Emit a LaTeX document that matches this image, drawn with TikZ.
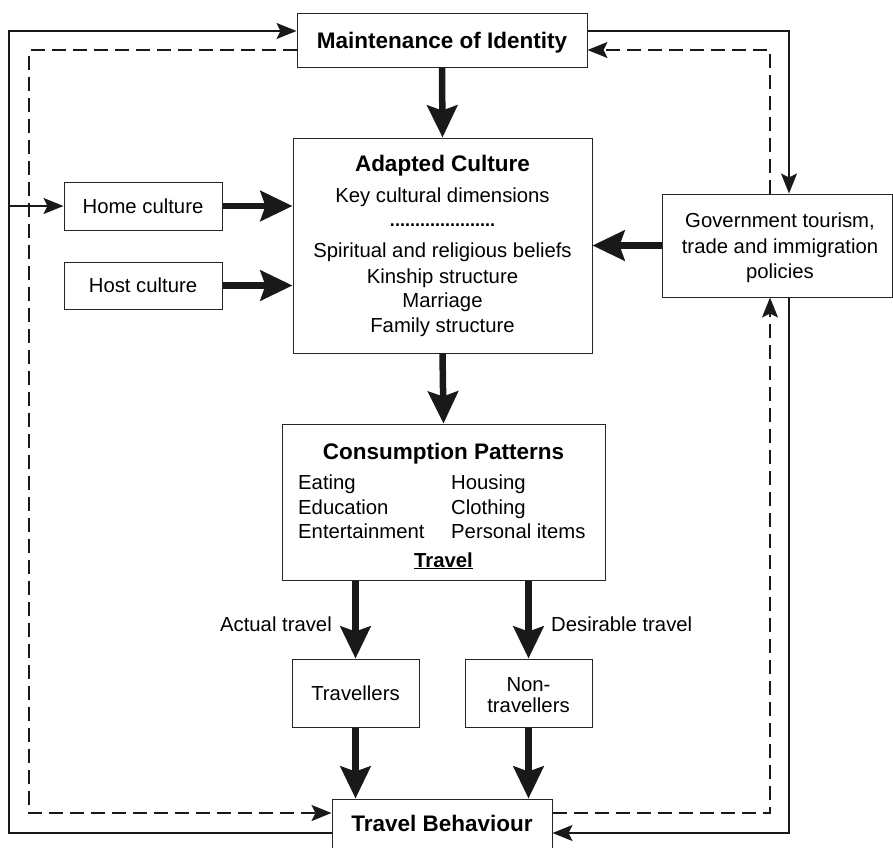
\documentclass[tikz,border=0pt]{standalone}
\usepackage{fontspec}
\setmainfont{Liberation Sans}
\usetikzlibrary{arrows.meta}
\tikzset{
  box/.style={draw=black!85, line width=1pt, inner sep=0pt, fill=white},
  txt/.style={inner sep=0pt, anchor=base, font=\fontsize{20.3}{25}\selectfont},
  ttl/.style={inner sep=0pt, anchor=base, font=\fontsize{22.5}{27}\selectfont\bfseries},
  bigarrow/.style={line width=6.5pt, draw=black!90, -{Stealth[length=32pt,width=30pt,inset=5pt]}},
  thinarrow/.style={line width=1.6pt, draw=black!90, -{Stealth[length=20pt,width=16pt,inset=4pt]}},
  dashline/.style={line width=1.6pt, draw=black!90, dash pattern=on 14pt off 7pt},
  dasharrow/.style={dashline, -{Stealth[length=20pt,width=16pt,inset=4pt]}},
}
\begin{document}
\begin{tikzpicture}[x=1pt,y=-1pt]
\useasboundingbox (0,0) rectangle (893,847);
% boxes
\node[box, minimum width=290pt, minimum height=54pt] (maint) at (442,40) {};
\node[ttl] (maintT) at (442,48) {Maintenance of Identity};
\node[box, minimum width=299pt, minimum height=215pt] (adapt) at (442.5,245.5) {};
\node[ttl] (adaptT) at (442.5,171) {Adapted Culture};
\node[txt] (adapt1) at (442.5,202) {Key cultural dimensions};
\node[txt, font=\fontsize{18}{20}\selectfont\bfseries] (adaptD) at (442.5,226) {.....................};
\node[txt] (adapt2) at (442.5,257) {Spiritual and religious beliefs};
\node[txt] (adapt3) at (442.5,283) {Kinship structure};
\node[txt] (adapt4) at (442.5,307) {Marriage};
\node[txt] (adapt5) at (442.5,332) {Family structure};
\node[box, minimum width=158pt, minimum height=48pt] (home) at (143,206) {};
\node[txt] (homeT) at (143,213) {Home culture};
\node[box, minimum width=158pt, minimum height=47pt] (host) at (143,285.5) {};
\node[txt] (hostT) at (143,292.5) {Host culture};
\node[box, minimum width=230pt, minimum height=103pt] (gov) at (777,245.5) {};
\node[txt] (gov1) at (780,227) {Government tourism,};
\node[txt] (gov2) at (780,253) {trade and immigration};
\node[txt] (gov3) at (780,278) {policies};
\node[box, minimum width=323pt, minimum height=156pt] (cons) at (443.5,502) {};
\node[ttl] (consT) at (443.5,459) {Consumption Patterns};
\node[txt, anchor=base west] (c1) at (298,489) {Eating};
\node[txt, anchor=base west] (c2) at (298,514) {Education};
\node[txt, anchor=base west] (c3) at (298,538) {Entertainment};
\node[txt, anchor=base west] (c4) at (451,489) {Housing};
\node[txt, anchor=base west] (c5) at (451,514) {Clothing};
\node[txt, anchor=base west] (c6) at (451,538) {Personal items};
\node[txt, font=\fontsize{20.3}{25}\selectfont\bfseries] (c7) at (443.5,567) {\underline{Travel}};
\node[box, minimum width=127pt, minimum height=68pt] (trav) at (355.5,693) {};
\node[txt] (travT) at (355.5,700) {Travellers};
\node[box, minimum width=127pt, minimum height=68pt] (nontrav) at (528.5,693) {};
\node[txt] (nt1) at (528.5,691) {Non-};
\node[txt] (nt2) at (528.5,712) {travellers};
\node[box, minimum width=220pt, minimum height=50pt] (tb) at (442,824) {};
\node[ttl] (tbT) at (442,831) {Travel Behaviour};
% labels
\node[txt, anchor=base east] (lab1) at (332,631) {Actual travel};
\node[txt, anchor=base west] (lab2) at (551,631) {Desirable travel};
% thick arrows
\draw[bigarrow] (maint.south) -- (adapt.north);
\draw[bigarrow] (home.east) -- (home.east -| adapt.west);
\draw[bigarrow] (host.east) -- (host.east -| adapt.west);
\draw[bigarrow] (gov.west) -- (gov.west -| adapt.east);
\draw[bigarrow] (adapt.south) -- (cons.north);
\draw[bigarrow] (trav.north |- cons.south) -- (trav.north);
\draw[bigarrow] (nontrav.north |- cons.south) -- (nontrav.north);
\draw[bigarrow] (trav.south) -- (trav.south |- tb.north);
\draw[bigarrow] (nontrav.south) -- (nontrav.south |- tb.north);
% feedback coordinates
\coordinate (sbl) at (9,833);
\coordinate (stl) at (9,31);
\coordinate (dtl) at (29,50);
\coordinate (dbl) at (29,813);
\coordinate (str) at (789,31);
\coordinate (sbr) at (789,833);
\coordinate (dtr) at (770,50);
\coordinate (dbr) at (770,813);
% solid loop left
\draw[thinarrow] (tb.west |- sbl) -- (sbl) -- (stl) -- (stl -| maint.west);
\draw[thinarrow] (stl |- home.west) -- (home.west);
% dashed loop left
\draw[dasharrow] (maint.west |- dtl) -- (dtl) -- (dbl) -- (dbl -| tb.west);
% solid right
\draw[thinarrow] (maint.east |- str) -- (str) -- (str |- gov.north);
\draw[thinarrow] (str |- gov.south) -- (sbr) -- (sbr -| tb.east);
% dashed right
\draw[dasharrow] (tb.east |- dbr) -- (dbr) -- (dbr |- gov.south);
\draw[dasharrow] (dtr |- gov.north) -- (dtr) -- (dtr -| maint.east);
\end{tikzpicture}
\end{document}
